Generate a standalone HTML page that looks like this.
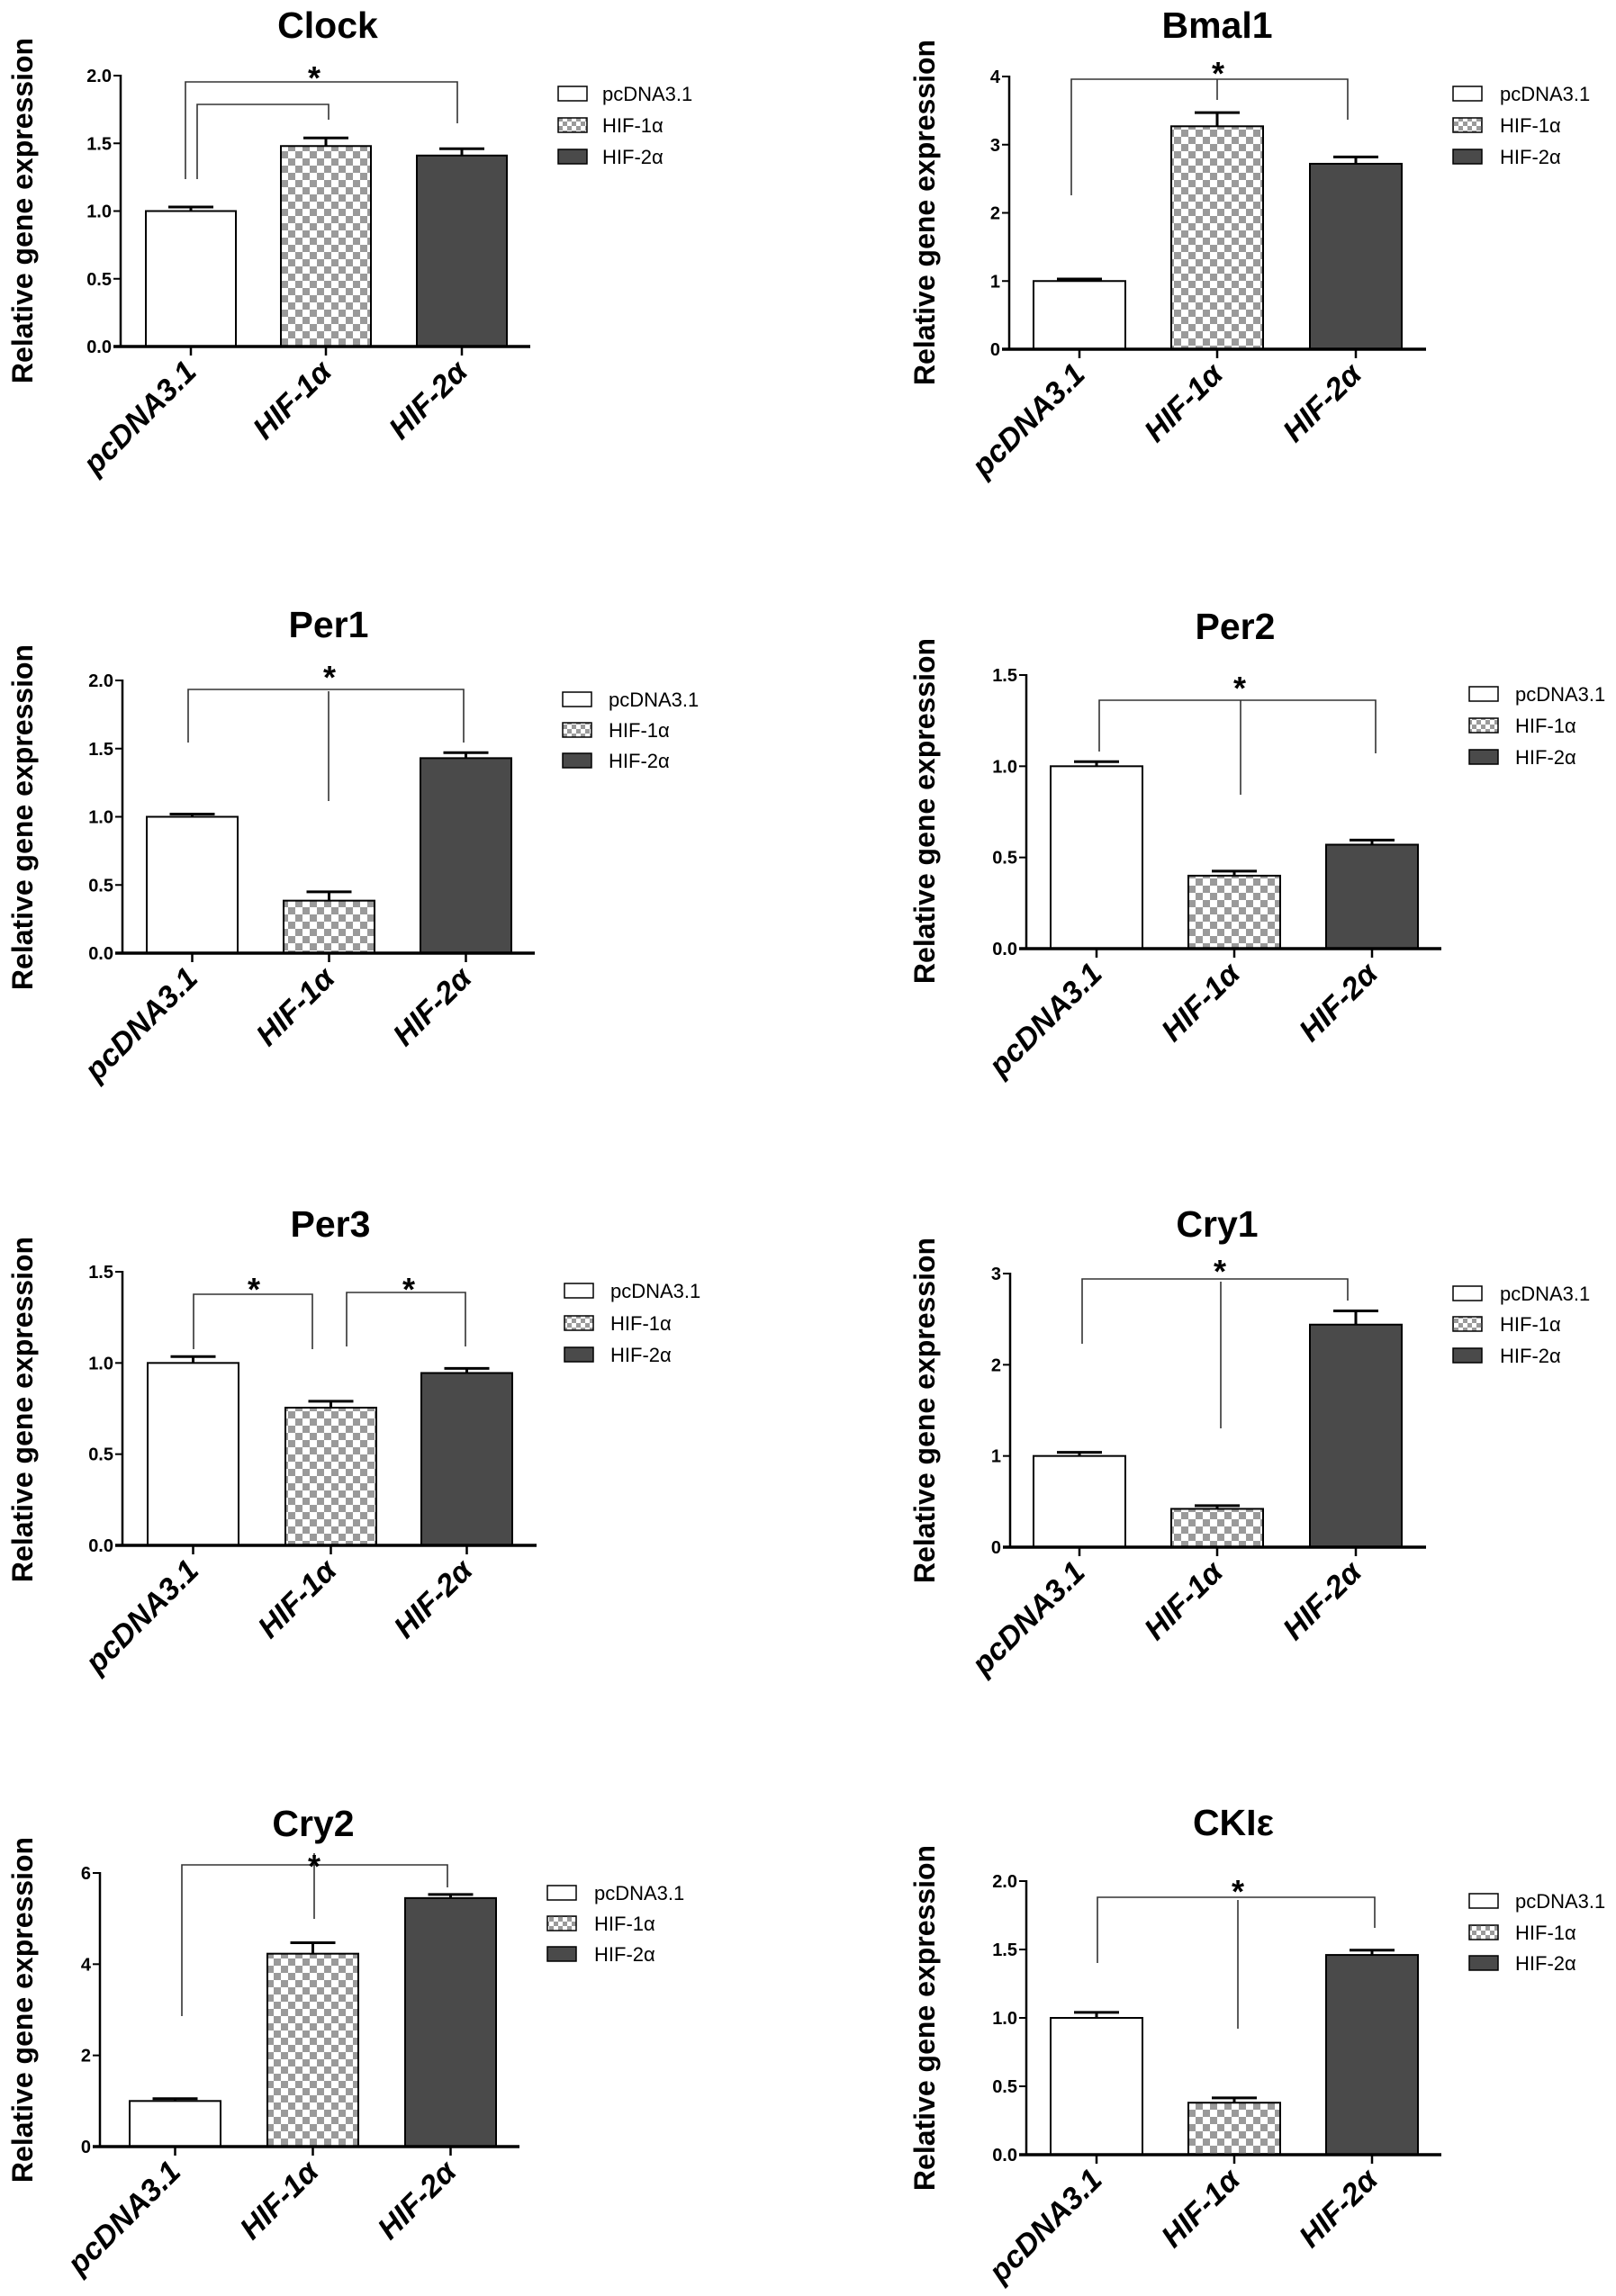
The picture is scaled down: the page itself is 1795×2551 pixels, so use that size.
<!DOCTYPE html>
<html><head><meta charset="utf-8"><title>Relative gene expression</title>
<style>
html,body{margin:0;padding:0;background:#fff;}
svg{display:block;}
text{font-family:"Liberation Sans",Arial,sans-serif;}
</style></head>
<body>
<svg id="fig" width="1795" height="2551" viewBox="0 0 1795 2551" xmlns="http://www.w3.org/2000/svg">
<defs>
<pattern id="chk" width="16" height="16" patternUnits="userSpaceOnUse">
<rect width="16" height="16" fill="#fff"/><rect width="8" height="8" fill="#9a9a9a"/><rect x="8" y="8" width="8" height="8" fill="#9a9a9a"/>
</pattern>
<pattern id="chkS" width="10" height="10" patternUnits="userSpaceOnUse">
<rect width="10" height="10" fill="#fff"/><rect width="5" height="5" fill="#9a9a9a"/><rect x="5" y="5" width="5" height="5" fill="#9a9a9a"/>
</pattern>
</defs>
</svg>
<script>
// ---- data ----
const groups = ["pcDNA3.1", "HIF-1\u03b1", "HIF-2\u03b1"];
const genes = ["Clock", "Bmal1", "Per1", "Per2", "Per3", "Cry1", "Cry2", "CKI\u03b5"];
const clockMean = [1.0, 1.48, 1.41];
const clockErr = [0.03, 0.06, 0.05];
const bmal1Mean = [1.0, 3.27, 2.72];
const bmal1Err = [0.03, 0.20, 0.10];
const per1Mean = [1.0, 0.385, 1.43];
const per1Err = [0.02, 0.065, 0.04];
const per2Mean = [1.0, 0.40, 0.57];
const per2Err = [0.025, 0.025, 0.025];
const per3Mean = [1.0, 0.755, 0.945];
const per3Err = [0.035, 0.035, 0.025];
const cry1Mean = [1.0, 0.42, 2.44];
const cry1Err = [0.04, 0.035, 0.15];
const cry2Mean = [1.0, 4.23, 5.45];
const cry2Err = [0.05, 0.24, 0.08];
const ckieMean = [1.0, 0.38, 1.46];
const ckieErr = [0.04, 0.035, 0.035];
const ticks2 = [0, 0.5, 1.0, 1.5, 2.0];
const ticks2Labels = ["0.0", "0.5", "1.0", "1.5", "2.0"];
const ticks15 = [0, 0.5, 1.0, 1.5];
const ticks15Labels = ["0.0", "0.5", "1.0", "1.5"];
const ticks4 = [0, 1, 2, 3, 4];
const ticks4Labels = ["0", "1", "2", "3", "4"];
const ticks3 = [0, 1, 2, 3];
const ticks3Labels = ["0", "1", "2", "3"];
const ticks6 = [0, 2, 4, 6];
const ticks6Labels = ["0", "2", "4", "6"];

// ---- layout (pixels) ----
const panels = [
 {g:0, mean:clockMean, err:clockErr, ticks:ticks2, tl:ticks2Labels, ymax:2, ax:134, y0:385, yTop:84, xEnd:589, bx:[162,312,463], bw:100, title:[364,42], ylab:[25,234], legX:[620,669], legY:[104,139,174],
  br:[[206,91,508,199,137],[219,116,365,199,133]], mid:[], stars:[[349,79]]},
 {g:1, mean:bmal1Mean, err:bmal1Err, ticks:ticks4, tl:ticks4Labels, ymax:4, ax:1121, y0:388, yTop:85, xEnd:1584, bx:[1148,1301,1455], bw:102, title:[1352,42], ylab:[1027,236], legX:[1614,1666], legY:[104,139,174],
  br:[[1190,88,1497,217,133]], mid:[[1352,88,111]], stars:[[1353,74]]},
 {g:2, mean:per1Mean, err:per1Err, ticks:ticks2, tl:ticks2Labels, ymax:2, ax:136, y0:1059, yTop:756, xEnd:594, bx:[163,315,467], bw:101, title:[365,708], ylab:[25,908], legX:[625,676], legY:[777,811,845],
  br:[[209,766,515,825,825]], mid:[[365,768,890]], stars:[[366,745]]},
 {g:3, mean:per2Mean, err:per2Err, ticks:ticks15, tl:ticks15Labels, ymax:1.5, ax:1140, y0:1054, yTop:750, xEnd:1601, bx:[1167,1320,1473], bw:102, title:[1372,710], ylab:[1027,901], legX:[1632,1683], legY:[771,806,841],
  br:[[1221,778,1528,835,837]], mid:[[1378,778,883]], stars:[[1377,757]]},
 {g:4, mean:per3Mean, err:per3Err, ticks:ticks15, tl:ticks15Labels, ymax:1.5, ax:136, y0:1717, yTop:1413, xEnd:596, bx:[164,317,468], bw:101, title:[367,1374], ylab:[25,1566], legX:[627,678], legY:[1434,1470,1505],
  br:[[215,1438,347,1499,1499],[385,1436,517,1496,1496]], mid:[], stars:[[282,1425],[454,1425]]},
 {g:5, mean:cry1Mean, err:cry1Err, ticks:ticks3, tl:ticks3Labels, ymax:3, ax:1122, y0:1719, yTop:1415, xEnd:1584, bx:[1148,1301,1455], bw:102, title:[1352,1374], ylab:[1027,1567], legX:[1614,1666], legY:[1437,1471,1506],
  br:[[1202,1421,1497,1493,1445]], mid:[[1356,1424,1587]], stars:[[1355,1405]]},
 {g:6, mean:cry2Mean, err:cry2Err, ticks:ticks6, tl:ticks6Labels, ymax:6, ax:111, y0:2385, yTop:2081, xEnd:577, bx:[144,297,450], bw:101, title:[348,2040], ylab:[25,2233], legX:[608,660], legY:[2103,2137,2171],
  br:[[202,2072,497,2240,2097]], mid:[[349,2059,2132]], stars:[[349,2066]]},
 {g:7, mean:ckieMean, err:ckieErr, ticks:ticks2, tl:ticks2Labels, ymax:2, ax:1140, y0:2394, yTop:2090, xEnd:1601, bx:[1167,1320,1473], bw:102, title:[1370,2039], ylab:[1027,2242], legX:[1632,1683], legY:[2112,2147,2181],
  br:[[1219,2108,1527,2181,2142]], mid:[[1375,2111,2254]], stars:[[1375,2094]]}
];
const fills = ["#ffffff", "url(#chk)", "#4a4a4a"];
const legFills = ["#ffffff", "url(#chkS)", "#4a4a4a"];

const NS = "http://www.w3.org/2000/svg";
const svg = document.getElementById("fig");
function mk(tag, attrs, parent) {
  const e = document.createElementNS(NS, tag);
  for (const k in attrs) e.setAttribute(k, attrs[k]);
  (parent || svg).appendChild(e);
  return e;
}

panels.forEach(function(p, pi) {
  const slug = genes[p.g].toLowerCase().replace(/[^a-z0-9]/g, "") || "ckie";
  const gp = mk("g", {});
  
  
  const yScale = function(v) { return p.y0 - (v / p.ymax) * (p.y0 - p.yTop); };

  // title
  const t = mk("text", {x:p.title[0], y:p.title[1], "text-anchor":"middle", "font-size":41, "font-weight":"bold", fill:"#000"}, gp);
  t.textContent = genes[p.g];
  
  

  // y label
  const yl = mk("text", {x:0, y:0, transform:"translate(" + (p.ylab[0] + 11) + "," + p.ylab[1] + ") rotate(-90)", "text-anchor":"middle", "font-size":32, "font-weight":"bold", fill:"#000"}, gp);
  yl.textContent = "Relative gene expression";
  
  

  // bars
  p.mean.forEach(function(v, i) {
    const top = yScale(v);
    const r = mk("rect", {x:p.bx[i], y:top, width:p.bw, height:p.y0 - top, fill:fills[i], stroke:"#000", "stroke-width":2}, gp);
    
    
    const cx = p.bx[i] + p.bw / 2;
    const et = yScale(v + p.err[i]);
    const eb = mk("path", {d:"M" + cx + "," + top + "V" + et + "M" + (cx - 25) + "," + et + "H" + (cx + 25), stroke:"#000", "stroke-width":3, fill:"none"}, gp);
    
    
  });

  // axes
  const ya = mk("line", {x1:p.ax, y1:p.yTop - 1, x2:p.ax, y2:p.y0, stroke:"#000", "stroke-width":2.5}, gp);
  
  
  const xa = mk("line", {x1:p.ax - 8, y1:p.y0, x2:p.xEnd, y2:p.y0, stroke:"#000", "stroke-width":3.5}, gp);
  
  

  p.ticks.forEach(function(v, i) {
    const y = yScale(v);
    mk("line", {x1:p.ax - 8, y1:y, x2:p.ax, y2:y, stroke:"#000", "stroke-width":2}, gp);
    const tl = mk("text", {x:p.ax - 10, y:y + 7, "text-anchor":"end", "font-size":20, "font-weight":"bold", fill:"#000"}, gp);
    tl.textContent = p.tl[i];
    
    
  });

  groups.forEach(function(gname, i) {
    const cx = p.bx[i] + p.bw / 2;
    mk("line", {x1:cx, y1:p.y0, x2:cx, y2:p.y0 + 10, stroke:"#000", "stroke-width":2.5}, gp);
    const xl = mk("text", {x:0, y:0, transform:"translate(" + (cx + 8) + "," + (p.y0 + 30) + ") rotate(-45)", "text-anchor":"end", "font-size":34, "font-weight":"bold", "font-style":"italic", fill:"#000"}, gp);
    xl.textContent = gname;
    
    
  });

  // significance brackets
  p.br.forEach(function(b) {
    const bp = mk("path", {d:"M" + b[0] + "," + b[3] + "V" + b[1] + "H" + b[2] + "V" + b[4], stroke:"#333", "stroke-width":1.6, fill:"none"}, gp);
    
    
  });
  p.mid.forEach(function(m) {
    const ml = mk("line", {x1:m[0], y1:m[1], x2:m[0], y2:m[2], stroke:"#333", "stroke-width":1.6}, gp);
    
    
  });
  p.stars.forEach(function(s) {
    const st = mk("text", {x:s[0], y:s[1] + 20, "text-anchor":"middle", "font-size":36, "font-weight":"bold", fill:"#000"}, gp);
    st.textContent = "*";
    
    
  });

  // legend
  groups.forEach(function(gname, i) {
    const ly = p.legY[i];
    const lb = mk("rect", {x:p.legX[0], y:ly - 8, width:32, height:16, fill:legFills[i], stroke:"#000", "stroke-width":1.5}, gp);
    
    
    const lt = mk("text", {x:p.legX[1], y:ly + 8, "font-size":22, fill:"#000"}, gp);
    lt.textContent = gname;
    
    
  });
});
</script>
</body></html>
